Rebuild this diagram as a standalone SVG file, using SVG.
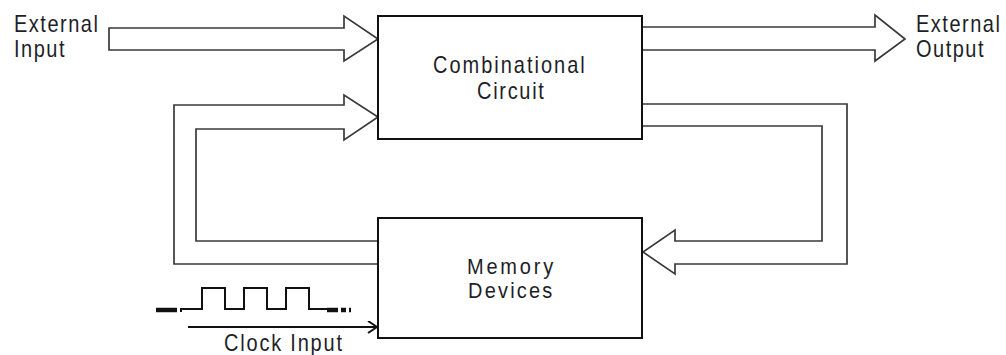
<svg xmlns="http://www.w3.org/2000/svg" width="1006" height="355" viewBox="0 0 1006 355">
<style>
.lbl{font-family:"Liberation Sans",Arial,sans-serif;font-size:20px;fill:#1e1e28}
.box{fill:#fff;stroke:#111;stroke-width:2}
.hollow{fill:none;stroke:#3a3a3a;stroke-width:1.7;stroke-linejoin:miter}
.wave{fill:none;stroke:#111;stroke-width:2}
.dash{stroke:#111;stroke-width:4.5}
</style>
<defs>
<marker id="chev" markerWidth="12" markerHeight="14" refX="10" refY="6" orient="auto" markerUnits="userSpaceOnUse">
<path d="M1,0 L10,6 L1,12" fill="none" stroke="#111" stroke-width="2"/>
</marker>
</defs>
<rect width="1006" height="355" fill="#fff"/>
<g id="connectors">
<polygon class="hollow" points="109,28 344,28 344,16 378,39 344,61 344,50 109,50"/>
<polyline class="hollow" points="642,27 875,27 875,15 905,39 875,61 875,50 642,50"/>
<polyline class="hollow" points="378,264 174,264 174,105 344,105 344,95 378,117 344,140 344,129 196,129 196,241 378,241"/>
<polyline class="hollow" points="642,104 847,104 847,264 675,264 675,274 643,252 675,230 675,241 822,241 822,126 642,126"/>
<line x1="188" y1="327" x2="377" y2="327" stroke="#111" stroke-width="2" marker-end="url(#chev)"/>
</g>
<g id="clock">
<line class="dash" x1="156" y1="310" x2="177" y2="310"/>
<polyline class="wave" points="181,312 181,309 202,309 202,288 225,288 225,309 244,309 244,288 267,288 267,309 286,309 286,288 309,288 309,309 327,309"/>
<line class="dash" x1="327" y1="310" x2="338" y2="310"/>
<line class="dash" x1="341" y1="310" x2="346" y2="310"/>
<line class="dash" x1="349" y1="310" x2="351" y2="310"/>
<text class="lbl" transform="translate(224,351) scale(1,1.18)" style="letter-spacing:1.8px">Clock Input</text>
</g>
<g id="combinational">
<rect class="box" x="378" y="16" width="264" height="123"/>
<text class="lbl" transform="translate(433,73) scale(1,1.18)" style="letter-spacing:2px">Combinational</text>
<text class="lbl" transform="translate(477,99) scale(1,1.18)" style="letter-spacing:1.7px">Circuit</text>
</g>
<g id="memory">
<rect class="box" x="378" y="218" width="264" height="120"/>
<text class="lbl" transform="translate(467,274) scale(1,1.12)" style="letter-spacing:2.8px">Memory</text>
<text class="lbl" transform="translate(468,298) scale(1,1.12)" style="letter-spacing:2.2px">Devices</text>
</g>
<g id="external-input">
<text class="lbl" transform="translate(14,32) scale(1,1.18)" style="letter-spacing:1.5px">External</text>
<text class="lbl" transform="translate(14,57) scale(1,1.18)" style="letter-spacing:1.5px">Input</text>
</g>
<g id="external-output">
<text class="lbl" transform="translate(916,32) scale(1,1.18)" style="letter-spacing:1.5px">External</text>
<text class="lbl" transform="translate(916,57) scale(1,1.18)" style="letter-spacing:1.5px">Output</text>
</g>
</svg>
